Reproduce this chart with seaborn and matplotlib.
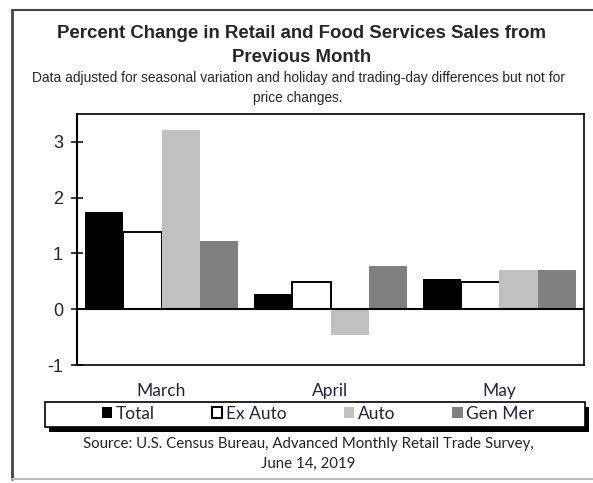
import numpy as np
import pandas as pd
import matplotlib
matplotlib.use("Agg")
import matplotlib.pyplot as plt
from matplotlib.patches import Patch, Rectangle
from matplotlib.lines import Line2D
import seaborn as sns

# Data
months = ["March", "April", "May"]
series = ["Total", "Ex Auto", "Auto", "Gen Mer"]
total = [1.75, 0.28, 0.54]
ex_auto = [1.38, 0.49, 0.49]
auto = [3.22, -0.47, 0.71]
gen_mer = [1.22, 0.78, 0.70]
colors = ["#000000", "#ffffff", "#c0c0c0", "#808080"]

df = pd.DataFrame({
    "month": months * 4,
    "series": np.repeat(series, 3),
    "value": total + ex_auto + auto + gen_mer,
})

sns.set_style("white")
plt.rcParams["font.family"] = ["Liberation Sans", "DejaVu Sans"]
plt.rcParams["axes.unicode_minus"] = False

W, H = 593, 483
fig = plt.figure(figsize=(W / 100, H / 100), dpi=100)
ax = fig.add_axes([77 / W, 1 - 365 / H, (584 - 77) / W, (365 - 114) / H])

sns.barplot(data=df, x="month", y="value", hue="series", order=months,
            hue_order=series, palette=colors, width=0.9, saturation=1,
            legend=False, ax=ax, linewidth=0)

# white bars need a black outline
for bar in ax.containers[1]:
    bar.set_edgecolor("black")
    bar.set_linewidth(1.4)

ax.axhline(0, color="black", lw=1.5, zorder=3)
ax.set_ylim(-1, 3.5)
ax.set_yticks([-1, 0, 1, 2, 3])
ax.set_xlim(-0.5, 2.5)
ax.set_xlabel("")
ax.set_ylabel("")
ax.tick_params(axis="y", direction="inout", length=8, width=1.3, left=True,
               labelsize=13, pad=6)
ax.tick_params(axis="x", length=0, pad=13)
for lab in ax.get_xticklabels():
    lab.set_family(["Lato", "DejaVu Sans"])
    lab.set_fontsize(12.5)
    lab.set_color("#222244")
for s in ax.spines.values():
    s.set_visible(True)
    s.set_color("black")
    s.set_linewidth(1.2)
ax.spines["left"].set_linewidth(1.5)

# titles
fig.text(302 / W, 1 - 33 / H, "Percent Change in Retail and Food Services Sales from",
         ha="center", va="center", fontsize=13.4, fontweight="bold")
fig.text(302 / W, 1 - 58 / H, "Previous Month",
         ha="center", va="center", fontsize=13.4, fontweight="bold")
fig.text(298 / W, 1 - 78 / H,
         "Data adjusted for seasonal variation and holiday and trading-day differences but not for",
         ha="center", va="center", fontsize=9.9)
fig.text(298 / W, 1 - 98 / H, "price changes.", ha="center", va="center", fontsize=9.9)

# legend box with black drop shadow
lx0, lx1, ly0, ly1 = 45, 585, 402, 427
fig.patches.append(Rectangle(((lx0 + 4) / W, 1 - (ly1 + 5) / H), (lx1 - lx0) / W,
                             (ly1 - ly0) / H, transform=fig.transFigure,
                             facecolor="black", edgecolor="none", zorder=1))
fig.patches.append(Rectangle((lx0 / W, 1 - ly1 / H), (lx1 - lx0) / W, (ly1 - ly0) / H,
                             transform=fig.transFigure, facecolor="white",
                             edgecolor="black", lw=1.2, zorder=2))
handles = [Patch(facecolor=c, edgecolor="black" if c == "#ffffff" else c,
                 linewidth=1.5 if c == "#ffffff" else 0) for c in colors]
leg = fig.legend(handles, series, loc="center", ncol=4,
                 bbox_to_anchor=(318 / W, 1 - 414 / H), frameon=False,
                 handlelength=0.6, handleheight=0.6, handletextpad=0.2,
                 columnspacing=3.3, prop={"family": ["Lato", "DejaVu Sans"], "size": 12.5})
leg.set_zorder(5)
for t in leg.get_texts():
    t.set_color("#222244")

fig.text(308 / W, 1 - 444 / H,
         "Source: U.S. Census Bureau, Advanced Monthly Retail Trade Survey,",
         ha="center", va="center", fontsize=10.8, family=["Lato", "DejaVu Sans"], color="#222233")
fig.text(308 / W, 1 - 464 / H, "June 14, 2019", ha="center", va="center",
         fontsize=10.8, family=["Lato", "DejaVu Sans"], color="#222233")

# outer frame
fig.add_artist(Line2D([12 / W, 12 / W], [1 - 10 / H, 1 - 479 / H], transform=fig.transFigure,
                      color="#444444", lw=2))
fig.add_artist(Line2D([12 / W, 1], [1 - 10 / H, 1 - 10 / H], transform=fig.transFigure,
                      color="#444444", lw=1.5))
fig.add_artist(Line2D([12 / W, 1], [1 - 479 / H, 1 - 479 / H], transform=fig.transFigure,
                      color="#bbbbbb", lw=1.5))

fig.savefig("out.png", dpi=100)
